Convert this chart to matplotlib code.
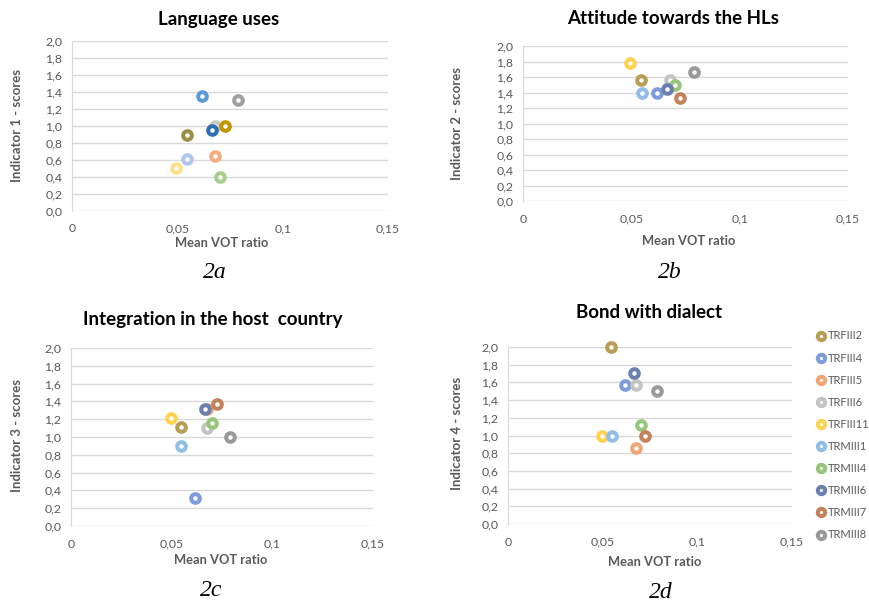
"""plot.py - mean VOT ratio vs indicator scores, four panels (2a-2d)"""

import matplotlib
matplotlib.use('Agg')
import matplotlib.pyplot as plt
from matplotlib.ticker import FixedLocator, FuncFormatter

plt.rcParams['font.family'] = ['Lato', 'DejaVu Sans']

speakers = ['TRFIII2', 'TRFIII4', 'TRFIII5', 'TRFIII6', 'TRFIII11',
            'TRMIII1', 'TRMIII4', 'TRMIII6', 'TRMIII7', 'TRMIII8']

# mean VOT ratio per speaker (same in every panel)
vot_ratio = [0.0545, 0.0617, 0.0677, 0.0677, 0.0496,
             0.0548, 0.0702, 0.0665, 0.0725, 0.0789]

# indicator scores per speaker
lang_uses = [0.89, 1.35, 0.65, 1.00, 0.50, 0.61, 0.40, 0.95, 1.00, 1.30]
attitude = [1.56, 1.39, 1.48, 1.56, 1.78, 1.39, 1.50, 1.45, 1.33, 1.67]
integration = [1.11, 0.32, 1.31, 1.10, 1.21, 0.90, 1.16, 1.32, 1.37, 1.00]
bond = [2.00, 1.57, 0.86, 1.57, 1.00, 1.00, 1.12, 1.71, 1.00, 1.50]

colors = ['#B89D55', '#7E9CDA', '#F2A577', '#C3C3C3', '#FFD24F',
          '#91BEE6', '#96C679', '#6A80AE', '#C3825A', '#999999']
# panel a came from an older sheet with slightly different colours
colors_a = ['#9A8E46', '#5B9BD5', '#F4AD7E', '#C9C9C9', '#FFE08A',
            '#B0C6EA', '#A6CF8B', '#2E6FB4', '#C39500', '#A0A0A0']

titles = ['Language uses', 'Attitude towards the HLs',
          'Integration in the host  country', 'Bond with dialect']
captions = ['2a', '2b', '2c', '2d']

x_ticks = [0, 0.05, 0.1, 0.15]
x_tick_labels = ['0', '0,05', '0,1', '0,15']
y_ticks = [i / 5 for i in range(11)]

W, H = 870, 606
TXT = '#595959'


def fx(px):
    return px / W


def fy(py):
    return 1 - py / H


fig = plt.figure(figsize=(8.7, 6.06), dpi=100)

# axes boxes in pixels: left, right, top, bottom
boxes = [(72, 388, 41, 211), (523, 848, 46, 201),
         (71, 373, 348, 526), (508, 792, 347, 524)]
title_pos = [(219, 20), (673, 19), (213, 320), (649, 313)]
ylabel_pos = [(17, 126), (457, 124), (17, 436), (457, 433)]
xlabel_pos = [(222, 243), (689, 241), (221, 560), (655, 562)]
caption_pos = [(215, 273), (670, 273), (211, 590), (661, 592)]
panels = [lang_uses, attitude, integration, bond]

handles = []
for i, scores in enumerate(panels):
    l, r, t, b = boxes[i]
    ax = fig.add_axes([fx(l), fy(b), (r - l) / W, (b - t) / H])
    cols = colors_a if i == 0 else colors
    for j, name in enumerate(speakers):
        h, = ax.plot([vot_ratio[j]], [scores[j]], 'o', ms=6.2, mew=2.9,
                     mfc='white', mec=cols[j], label=name, zorder=3,
                     clip_on=False)
        if i == 3:
            handles.append(h)
    ax.set_xlim(0, 0.15)
    ax.set_ylim(0, 2.0)
    ax.xaxis.set_major_locator(FixedLocator(x_ticks))
    ax.xaxis.set_major_formatter(FuncFormatter(lambda v, p: x_tick_labels[p]))
    ax.yaxis.set_major_locator(FixedLocator(y_ticks))
    ax.yaxis.set_major_formatter(FuncFormatter(lambda v, p: f'{v:.1f}'.replace('.', ',')))
    ax.grid(axis='y', color='#D9D9D9', lw=1.0)
    ax.set_axisbelow(True)
    for s in ['top', 'right', 'bottom']:
        ax.spines[s].set_visible(False)
    ax.spines['left'].set_color('#D9D9D9')
    ax.tick_params(length=0, labelsize=8.8, colors=TXT)
    ax.tick_params(axis='x', pad=9)
    ax.tick_params(axis='y', pad=7)

    fig.text(fx(title_pos[i][0]), fy(title_pos[i][1]), titles[i],
             ha='center', va='center', fontsize=13.5, fontweight='bold')
    fig.text(fx(ylabel_pos[i][0]), fy(ylabel_pos[i][1]),
             f'Indicator {i + 1} - scores', rotation=90, ha='center',
             va='center', fontsize=9.5, fontweight='bold', color=TXT)
    fig.text(fx(xlabel_pos[i][0]), fy(xlabel_pos[i][1]), 'Mean VOT ratio',
             ha='center', va='center', fontsize=9.3, fontweight='bold',
             color=TXT)
    fig.text(fx(caption_pos[i][0]), fy(caption_pos[i][1]), captions[i],
             ha='center', va='center', fontsize=17, style='italic',
             family='Liberation Serif')

leg = fig.legend(handles=handles, loc='upper left',
                 bbox_to_anchor=(fx(810), fy(326)), frameon=False,
                 fontsize=8.0, labelspacing=1.0, handletextpad=0.0,
                 handlelength=1.2, borderaxespad=0, markerscale=0.85)
for txt in leg.get_texts():
    txt.set_color(TXT)

fig.savefig('out.png', dpi=100)
